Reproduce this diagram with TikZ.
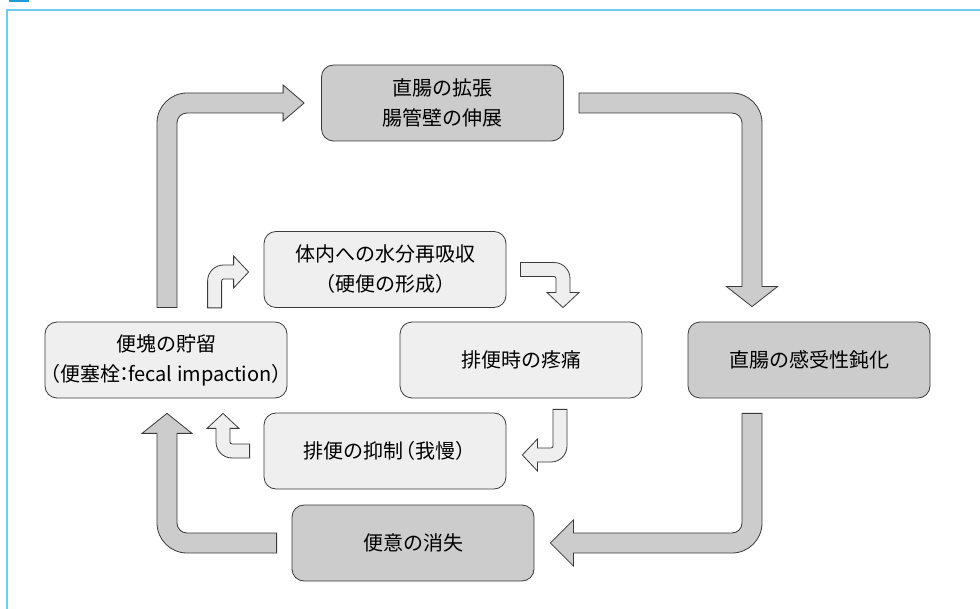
\documentclass[tikz,border=0pt]{standalone}
\usepackage{fontspec}
\setmainfont{Noto Sans CJK JP}
\usetikzlibrary{calc}
\definecolor{dk}{HTML}{CCCCCC}
\definecolor{lt}{HTML}{EFEFEF}
\definecolor{edgec}{HTML}{3A3A3A}
\definecolor{framec}{HTML}{6CCDF2}
\definecolor{figblue}{HTML}{1E9AD6}
% #1 style, #2 tail, #3 tip, #4 rotation, #5 half shaft, #6 half head, #7 head length, #8 inner radius
\newcommand\blockarrow[8]{%
  \path (#2); \pgfgetlastxy{\baXa}{\baYa}
  \path (#3); \pgfgetlastxy{\baXb}{\baYb}
  \pgfmathsetmacro\baLtwo{(\baXb-\baXa)*cos(#4)+(\baYb-\baYa)*sin(#4)}
  \pgfmathsetmacro\baLone{-(\baXb-\baXa)*sin(#4)+(\baYb-\baYa)*cos(#4)}
  \pgfmathsetmacro\baRo{#8+2*#5}
  \begin{scope}[shift={(#2)},rotate=#4]
    \draw[#1] (-#5,0) -- (-#5,\baLone+#5-\baRo)
      arc[start angle=180,end angle=90,radius=\baRo pt]
      -- (\baLtwo-#7,\baLone+#5) -- (\baLtwo-#7,\baLone+#6) -- (\baLtwo,\baLone)
      -- (\baLtwo-#7,\baLone-#6) -- (\baLtwo-#7,\baLone-#5)
      -- (#5+#8,\baLone-#5)
      arc[start angle=90,end angle=180,radius=#8 pt]
      -- (#5,0) -- cycle;
  \end{scope}}
\begin{document}
\begin{tikzpicture}[x=1pt,y=1pt,
  boxbase/.style={draw=edgec, line width=0.8pt, rounded corners=12pt,
    minimum width=242pt, minimum height=76pt, align=center, inner sep=0pt,
    font=\fontsize{20pt}{30pt}\selectfont},
  dkbox/.style={boxbase, fill=dk},
  ltbox/.style={boxbase, fill=lt},
  bigarrow/.style={draw=edgec, line width=0.8pt, fill=dk, line join=miter},
  smallarrow/.style={draw=edgec, line width=0.8pt, fill=lt, line join=miter}]
\useasboundingbox (0,0) rectangle (980,-609);
\fill[figblue] (9,0) rectangle (29,-2.5);
\draw[framec, line width=2pt] (7,-609) -- (7,-10) -- (980,-10);

\node[dkbox] (b1) at (442.5,-103) {直腸の拡張\\腸管壁の伸展};
\node[ltbox] (b2) at (385,-269.5) {体内への水分再吸収\\（硬便の形成）};
\node[ltbox] (b3) at (521,-360) {排便時の疼痛};
\node[dkbox] (b4) at (809,-360) {直腸の感受性鈍化};
\node[ltbox] (b5) at (166,-360) {便塊の貯留\\\kern-0.4em（便塞栓\kern-0.3em：\kern-0.3em fecal impaction）\kern-0.4em};
\node[ltbox] (b6) at (385,-451) {排便の抑制\kern-0.4em（我慢）\kern-0.4em};
\node[dkbox] (b7) at (413,-543) {便意の消失};

\coordinate (a2t) at ($(b5.north)+(1,14)$);
\coordinate (a2h) at ($(b1.west)+(-17,0)$);
\coordinate (a3t) at ($(b1.east)+(15,0)$);
\coordinate (a3h) at ($(b4.north)+(-57,15)$);
\coordinate (a4t) at ($(b4.south)+(-57,-15)$);
\coordinate (a4h) at ($(b7.east)+(16,0)$);
\coordinate (a1t) at ($(b7.west)+(-15,0)$);
\coordinate (a1h) at ($(b5.south)+(1,-15)$);

\blockarrow{bigarrow}{a2t}{a2h}{0}{10}{18}{21}{10}
\blockarrow{bigarrow}{a3t}{a3h}{-90}{10}{25.5}{20}{10}
\blockarrow{bigarrow}{a4t}{a4h}{180}{10}{23}{23}{10}
\blockarrow{bigarrow}{a1t}{a1h}{90}{10}{25}{20}{10}

\coordinate (s1t) at ($(b2.south west)+(-49,0)$);
\coordinate (s1h) at ($(b2.west)+(-15,-2.5)$);
\coordinate (s2t) at ($(b2.east)+(14,0)$);
\coordinate (s2h) at ($(b3.north)+(42,14)$);
\coordinate (s3t) at ($(b3.south)+(39,-11)$);
\coordinate (s3h) at ($(b6.east)+(16,-4)$);
\coordinate (s4t) at ($(b6.west)+(-14,0)$);
\coordinate (s4h) at ($(b5.south)+(57,-15)$);

\blockarrow{smallarrow}{s1t}{s1h}{0}{7}{16}{15}{2}
\blockarrow{smallarrow}{s2t}{s2h}{-90}{7}{16}{15}{2}
\blockarrow{smallarrow}{s3t}{s3h}{180}{7}{16}{15}{2}
\blockarrow{smallarrow}{s4t}{s4h}{90}{7}{16}{15}{2}
\end{tikzpicture}
\end{document}
